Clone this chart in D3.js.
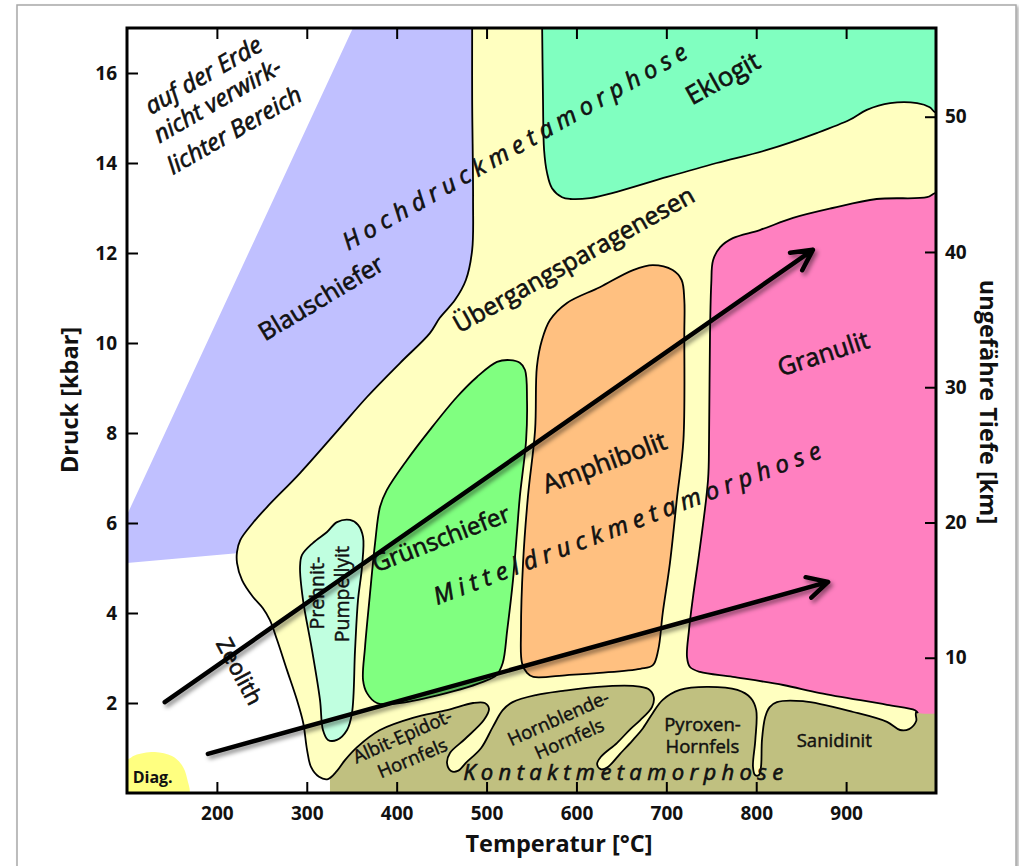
<!DOCTYPE html>
<html><head><meta charset="utf-8">
<script src="https://cdn.jsdelivr.net/npm/d3@7"></script>
<style>body{margin:0;background:#fff;} svg{display:block;}</style>
</head><body>
<svg id="chart" width="1019" height="866"></svg>
<script>
// ---------- data (temperature °C, pressure kbar) ----------
const tempTicks = [200,300,400,500,600,700,800,900];
const pressureTicks = [2,4,6,8,10,12,14,16];
const depthTicks = [10,20,30,40,50];
const kmPerKbar = 3.327;

const blueschistArea = [[100,6.18],[356,17.2],[500,17.2],[500,5.3],[222,5.33],[100,5.11]];
const contactArea = [[325.8,-0.5],[325.8,0.45],[345,1.0],[400,3],[1010,3],[1010,-0.5]];
const diagenesisArea = [[90,0.73],[100,0.74],[109,0.84],[131,0.91],[150,0.82],[161,0.62],[166.8,0.33],[168,-0.1],[90,-0.1]];
const transitionArea = [[484,18],[484,17.3],[484,15.4],[485,13.18],[484,12.07],[477,11.4],[465,10.96],[448,10.56],[437,10.22],[404,9.56],[367,8.8],[335,8.07],[292.5,7.11],[256,6.36],[240,6.0],[226,5.62],[222.4,5.36],[222.4,5.11],[228,4.73],[240,4.36],[251,4.11],[259,3.84],[267,3.4],[278,2.73],[289,2.07],[296,1.56],[300.3,0.96],[304.7,0.58],[313.6,0.36],[323.6,0.31],[333.6,0.49],[342.5,0.73],[356,1.02],[381.5,1.4],[418,1.67],[456,1.84],[485,2.0],[498,2.0],[502.7,1.87],[497,1.62],[476,1.2],[459.3,0.89],[456,0.67],[460.5,0.49],[468,0.49],[477,0.67],[494,1.0],[507,1.47],[518,1.84],[529,2.02],[556,2.18],[585,2.27],[623,2.36],[663,2.38],[680,2.31],[686,2.13],[684,1.91],[671,1.62],[660,1.42],[645,1.11],[627,0.8],[623,0.64],[627,0.53],[635,0.58],[648.5,0.87],[662,1.16],[674,1.44],[685,1.78],[696,2.07],[715,2.29],[745,2.36],[779,2.29],[794,2.11],[800,1.84],[799,1.18],[796.4,0.58],[798.7,0.4],[803,0.4],[805.3,0.58],[806.4,1.18],[810,1.69],[815,1.91],[823,2.02],[852,2.04],[908,1.8],[945.5,1.58],[960,1.4],[970,1.42],[978,1.6],[978,1.8],[1010,2.3],[1010,18]];
const greenschistArea = [[511.6,9.58],[526,9.62],[537,9.56],[542.8,9.4],[545,8.73],[544,7.84],[537,6.58],[534,5.84],[529.4,4.73],[523,3.62],[518,2.89],[511,2.62],[496,2.47],[437,2.13],[396,1.98],[378,2.0],[367,2.22],[362.6,2.51],[364.8,3.24],[370,4.36],[376,5.56],[381.5,6.36],[389,6.73],[411.5,7.4],[437,8.07],[467,8.8],[489,9.24]];
const amphiboliteArea = [[685,11.73],[707,11.62],[717,11.4],[720,10.96],[720,10.22],[719,7.84],[712,6.58],[704,5.11],[696,4.0],[691,3.18],[685,2.84],[671,2.76],[626,2.67],[589.5,2.62],[552,2.58],[545,2.67],[539.4,2.89],[538.3,3.62],[540.6,5.11],[546,6.58],[554,8.07],[556,9.47],[561.7,10.07],[570.6,10.51],[589.5,10.89],[626,11.24],[663,11.62]];
const prehnitArea = [[333.6,6.02],[348,6.07],[357,5.96],[362.6,5.69],[361.4,5.02],[357,4.29],[353.7,3.18],[350.3,1.78],[344.8,1.4],[333.6,1.18],[323.6,1.18],[318,1.4],[314.7,2.07],[305.8,3.18],[295.8,4.29],[292.5,5.02],[294.7,5.29],[307,5.56],[322.5,5.8]];
const granuliteEdge = [[1010,13.33],[999,13.33],[990,13.24],[934,13.2],[885,13.0],[841,12.78],[804,12.51],[774,12.33],[760,12.13],[752,11.84],[750,11.33],[748.6,10.22],[747.5,7.84],[746.4,6.96],[737.5,5.47],[729.7,4.36],[725.2,3.62],[723,3.02],[726.3,2.8],[737.5,2.69],[774,2.58],[830,2.4],[871,2.22],[945.5,1.96],[976.7,1.84],[980,1.78]];
const granuliteClose = [[1010,1.78]];
const eclogiteEdge = [[561.7,17.3],[562.8,15.4],[564,14.29],[567.3,13.78],[572.8,13.44],[584,13.24],[593,13.2],[615,13.22],[645,13.36],[701,13.69],[756,14.0],[812,14.29],[868,14.67],[904,14.96],[923,15.18],[949,15.33],[979,15.33],[993,15.24],[999,15.13],[1010,15.1]];
const eclogiteClose = [[1010,17.3]];

const arrowStart = [[142,2.02],[190,0.87]];
const arrowEnd = [[863,12.07],[880,4.69]];

const labelText = ["auf der Erde","nicht verwirk-","lichter Bereich","Blauschiefer","Hochdruckmetamorphose","Eklogit","Übergangsparagenesen","Granulit","Amphibolit","Mitteldruckmetamorphose","Grünschiefer","Prehnit-","Pumpellyit","Zeolith","Albit-Epidot-","Hornfels","Hornblende-","Hornfels","Pyroxen-","Hornfels","Sanidinit","Kontaktmetamorphose","Diag."];
const labelT = [189.6,205.1,224,320.8,535.8,767.5,601.7,877.6,634.6,659.6,452.7,319.2,347,225.7,409.3,420.4,582.8,595,740.2,740.2,886.8,652,106.3];
const labelP = [15.79,15.23,14.57,10.84,14.2,15.71,11.69,9.58,7.16,5.82,5.48,4.44,4.42,2.71,1.13,0.64,1.53,1.07,1.38,0.9,1.03,0.29,0.22];

// ---------- styles ----------
const labelAngle = [-30,-30,-30,-31,-29.6,-29,-29.3,-18,-20.4,-21,-21,-90,-90,62,-24,-23,-24,-24,0,0,0,0,0];
const labelSize = [24,24,24,24.5,24,26,24.5,25,25.5,24,24,19.5,19.5,22.5,18.5,18.5,18.5,18.5,18.5,18.5,18.5,22,16];
const labelItalic = [1,1,1,0,1,0,0,0,0,1,0,0,0,0,0,0,0,0,0,0,0,1,0];
const labelSpan = [0,0,0,0,392,0,0,0,0,413,0,0,0,0,0,0,0,0,0,0,0,320,0];

const mL = 127, mR = 936, mT = 28, mB = 793;
const FONT = "'Open Sans','DejaVu Sans',sans-serif";

const svg = d3.select("#chart");
const x = d3.scaleLinear().domain([100,1000]).range([mL,mR]);
const y = d3.scaleLinear().domain([0,17]).range([mB,mT]);
const yKm = d3.scaleLinear().domain([0,17*kmPerKbar]).range([mB,mT]);

const defs = svg.append("defs");
defs.append("clipPath").attr("id","plotclip").append("rect")
  .attr("x",mL).attr("y",mT).attr("width",mR-mL).attr("height",mB-mT);
const sh = defs.append("filter").attr("id","shadow").attr("x","-20%").attr("y","-20%").attr("width","140%").attr("height","140%");
sh.append("feDropShadow").attr("dx",2.5).attr("dy",3).attr("stdDeviation",2).attr("flood-color","#000").attr("flood-opacity",0.45);
const fsh = defs.append("filter").attr("id","frameshadow").attr("x","-5%").attr("y","-5%").attr("width","110%").attr("height","110%");
fsh.append("feDropShadow").attr("dx",2).attr("dy",2).attr("stdDeviation",1.5).attr("flood-color","#000").attr("flood-opacity",0.3);

// outer frame
svg.append("rect").attr("x",17).attr("y",5).attr("width",999).attr("height",880)
  .attr("fill","#fff").attr("stroke","#a8a8a8").attr("stroke-width",1.5).attr("filter","url(#frameshadow)");

const g = svg.append("g").attr("clip-path","url(#plotclip)");

const lineOpen = d3.line().x(d=>x(d[0])).y(d=>y(d[1])).curve(d3.curveCatmullRom.alpha(0.5));
const lineClosed = d3.line().x(d=>x(d[0])).y(d=>y(d[1])).curve(d3.curveCatmullRomClosed.alpha(0.5));
const lineStraight = d3.line().x(d=>x(d[0])).y(d=>y(d[1]));

const OUT = "#000", OW = 1.8;

g.append("path").attr("d", lineStraight(blueschistArea)+"Z").attr("fill","#c0c0ff");
g.append("path").attr("d", lineStraight(contactArea)+"Z").attr("fill","#c0c080");
g.append("path").attr("d", lineClosed(diagenesisArea)).attr("fill","#ffff80");
g.append("path").attr("d", lineClosed(transitionArea)).attr("fill","#ffffc0").attr("stroke",OUT).attr("stroke-width",OW);
g.append("path").attr("d", lineOpen(eclogiteEdge.concat(eclogiteClose))+"Z").attr("fill","#80ffc0");
g.append("path").attr("d", lineOpen(eclogiteEdge)).attr("fill","none").attr("stroke",OUT).attr("stroke-width",OW);
g.append("path").attr("d", lineOpen(granuliteEdge.concat(granuliteClose))+"Z").attr("fill","#ff80c0");
g.append("path").attr("d", lineOpen(granuliteEdge)).attr("fill","none").attr("stroke",OUT).attr("stroke-width",OW);
g.append("path").attr("d", lineClosed(amphiboliteArea)).attr("fill","#ffc080").attr("stroke",OUT).attr("stroke-width",OW);
g.append("path").attr("d", lineClosed(greenschistArea)).attr("fill","#80ff80").attr("stroke",OUT).attr("stroke-width",OW);
g.append("path").attr("d", lineClosed(prehnitArea)).attr("fill","#c0ffe0").attr("stroke",OUT).attr("stroke-width",OW);

// labels
const lg = svg.append("g").attr("font-family",FONT).attr("fill","#111").attr("stroke","#111");
labelText.forEach((t,i)=>{
  const tx = lg.append("text")
    .attr("transform",`translate(${x(labelT[i])},${y(labelP[i])}) rotate(${labelAngle[i]})`)
    .attr("text-anchor", t==="Diag." ? "start" : "middle")
    .attr("font-size",labelSize[i])
    .attr("font-style",labelItalic[i]?"italic":"normal")
    .attr("font-weight", t==="Diag." ? 700 : 400)
    .attr("stroke-width", t==="Diag." ? 0 : (labelSize[i] > 20 ? 0.65 : 0.45))
    .text(t);
  if (t==="Zeolith") tx.attr("dominant-baseline","central");
  if (labelSpan[i]) tx.attr("textLength",labelSpan[i]).attr("lengthAdjust","spacing");
});

// arrows
const ag = svg.append("g").attr("filter","url(#shadow)").attr("stroke","#000").attr("fill","none")
  .attr("stroke-width",4.5).attr("stroke-linecap","round").attr("stroke-linejoin","round");
arrowStart.forEach((s,i)=>{
  const x0=x(s[0]), y0=y(s[1]), x1=x(arrowEnd[i][0]), y1=y(arrowEnd[i][1]);
  const a = Math.atan2(y1-y0,x1-x0), L=23, sp=0.48;
  const p1=[x1-L*Math.cos(a-sp), y1-L*Math.sin(a-sp)];
  const p2=[x1-L*Math.cos(a+sp), y1-L*Math.sin(a+sp)];
  ag.append("path").attr("d",`M${x0},${y0}L${x1},${y1}M${p1[0]},${p1[1]}L${x1},${y1}L${p2[0]},${p2[1]}`);
});

// axes
const axFont = sel => sel.selectAll("text").attr("font-family",FONT).attr("font-size",19).attr("font-weight",700).attr("fill","#111");
const axStyle = sel => { sel.select(".domain").remove(); sel.selectAll("line").attr("stroke","#000").attr("stroke-width",2); };

svg.append("g").attr("transform",`translate(${mL},0)`)
  .call(d3.axisLeft(y).tickValues(pressureTicks).tickSize(-11).tickPadding(10))
  .call(axStyle).call(axFont);
svg.append("g").attr("transform",`translate(0,${mB})`)
  .call(d3.axisBottom(x).tickValues(tempTicks).tickSize(-11).tickPadding(14))
  .call(axStyle).call(axFont);
svg.append("g").attr("transform",`translate(0,${mT})`)
  .call(d3.axisTop(x).tickValues(tempTicks).tickSize(-11).tickFormat(""))
  .call(axStyle);
svg.append("g").attr("transform",`translate(${mR},0)`)
  .call(d3.axisRight(yKm).tickValues(depthTicks).tickSize(-11).tickPadding(9))
  .call(axStyle).call(axFont);

svg.append("rect").attr("x",mL).attr("y",mT).attr("width",mR-mL).attr("height",mB-mT)
  .attr("fill","none").attr("stroke","#000").attr("stroke-width",3);

// axis titles
const titleStyle = sel => sel.attr("text-anchor","middle").attr("font-family",FONT).attr("font-size",23.5).attr("font-weight",700).attr("fill","#111");
svg.append("text").attr("x",559).attr("y",852).call(titleStyle).text("Temperatur [°C]");
svg.append("text").attr("transform","translate(78,400) rotate(-90)").call(titleStyle).text("Druck [kbar]");
svg.append("text").attr("transform","translate(980,402) rotate(90)").call(titleStyle).text("ungefähre Tiefe [km]");
</script>
</body></html>
